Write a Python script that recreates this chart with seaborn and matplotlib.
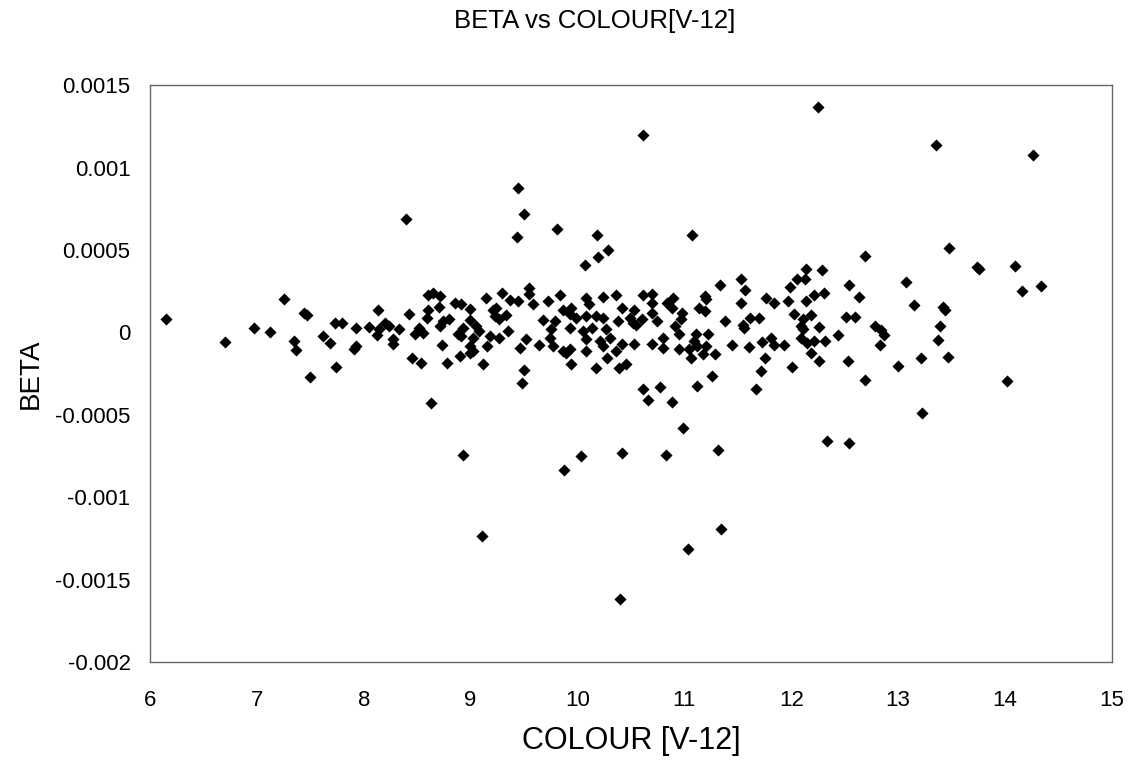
import matplotlib
matplotlib.use("Agg")
import matplotlib.pyplot as plt
import numpy as np
import pandas as pd
import seaborn as sns

# values (colour index, beta)
colour = [
    6.15, 6.70, 6.97, 7.12, 7.25, 7.35, 7.37, 7.44, 7.47, 7.50, 7.62, 7.68,
    7.74, 7.73, 7.80, 7.91, 7.93, 7.93, 8.05, 8.13, 8.14, 8.12, 8.20,
    8.60, 8.65, 8.71, 9.29, 9.55, 9.55, 9.84, 10.36, 9.14, 9.37, 9.44, 9.58,
    9.72, 10.08, 10.24, 8.85, 8.91, 8.99, 8.70, 8.60, 9.21, 9.24, 10.11, 9.94,
    9.86, 10.42, 8.42, 8.59, 9.23, 9.27, 9.33, 9.93, 9.99, 10.17, 10.24, 10.08,
    10.38, 9.68, 9.79, 8.99, 8.74, 8.80, 8.24, 8.33, 8.52, 8.71, 8.93, 9.05,
    9.08, 9.35, 9.75, 9.93, 10.05, 10.14, 10.27, 8.48, 8.55, 8.88, 8.27, 8.91,
    9.02, 9.18, 9.27, 9.52, 9.74, 10.08, 10.21, 10.30, 10.42, 8.27, 8.73, 8.99,
    9.15, 9.46, 9.64, 9.77, 9.86, 9.93, 10.08, 10.24, 10.36, 9.02, 8.45, 8.54,
    8.78, 8.90, 8.99, 9.12, 9.89, 9.94, 10.17, 10.39, 10.45, 10.28, 9.50, 9.48,
    8.40, 9.44, 9.50, 9.43, 9.81, 10.18, 10.29, 10.19, 10.07,
    10.61, 12.25, 13.35, 14.26, 11.07, 12.69, 13.48, 13.74, 13.76, 14.09, 14.34,
    14.16, 13.07, 12.29, 12.14, 12.05, 12.13, 11.99, 11.53, 11.57, 11.33, 12.54,
    10.61, 10.70, 10.89, 11.19, 11.20, 11.53, 11.76, 11.84, 11.97, 12.14, 12.21,
    12.31, 12.63, 10.70, 10.84, 10.88, 11.14, 11.19, 10.98, 10.53, 10.70, 12.03,
    12.18, 12.11, 12.51, 12.60, 11.38, 11.61, 11.70, 11.55, 11.56, 10.49, 10.52,
    10.60, 10.74, 10.55, 10.97, 10.91, 10.95, 10.80, 11.11, 11.22, 11.09, 11.12,
    11.20, 11.17, 11.29, 11.04, 10.95, 11.06, 10.53, 10.70, 10.80, 11.45, 11.60,
    11.73, 11.81, 11.84, 11.93, 12.09, 12.11, 12.26, 12.09, 12.15, 12.21, 12.18,
    12.32, 12.44, 12.26, 11.75, 12.01, 12.53, 12.69, 11.72, 11.26, 11.12, 11.67,
    10.61, 10.77,
    13.15, 13.42, 13.44, 12.78, 12.84, 12.87, 12.83, 13.39, 13.37, 13.21, 13.47,
    13.00, 14.02,
    8.63, 10.66, 10.88, 10.99, 13.22, 8.93, 9.87, 10.03, 10.42, 10.83, 11.31,
    12.33, 12.54, 9.11, 11.34, 11.03, 10.40,
]

beta = [
    0.000079, -0.000057, 0.000024, 0.000004, 0.000200, -0.000053, -0.000109,
    0.000115, 0.000105, -0.000273, -0.000022, -0.000061, -0.000212, 0.000059,
    0.000059, -0.000103, -0.000083, 0.000030, 0.000034, 0.000139, 0.000018,
    -0.000016, 0.000059,
    0.000230, 0.000240, 0.000220, 0.000240, 0.000270, 0.000234, 0.000226,
    0.000230, 0.000210, 0.000194, 0.000190, 0.000170, 0.000190, 0.000206,
    0.000214, 0.000180, 0.000170, 0.000145, 0.000154, 0.000139, 0.000139,
    0.000149, 0.000170, 0.000149, 0.000139, 0.000149, 0.000113, 0.000089,
    0.000099, 0.000079, 0.000105, 0.000109, 0.000089, 0.000099, 0.000089,
    0.000099, 0.000069, 0.000073, 0.000069, 0.000073, 0.000069, 0.000079,
    0.000038, 0.000022, 0.000028, 0.000038, 0.000028, 0.000038, 0.000008,
    0.000008, 0.000018, 0.000028, 0.000008, 0.000028, 0.000018, -0.000012,
    -0.000002, -0.000012, -0.000042, -0.000022, -0.000032, -0.000022, -0.000032,
    -0.000042, -0.000032, -0.000042, -0.000053, -0.000032, -0.000073, -0.000073,
    -0.000077, -0.000083, -0.000083, -0.000093, -0.000079, -0.000083, -0.000113,
    -0.000103, -0.000113, -0.000083, -0.000113, -0.000113, -0.000154, -0.000188,
    -0.000184, -0.000143, -0.000123, -0.000190, -0.000123, -0.000194, -0.000214,
    -0.000214, -0.000194, -0.000154, -0.000226, -0.000307,
    0.000691, 0.000877, 0.000721, 0.000580, 0.000626, 0.000592, 0.000503,
    0.000460, 0.000408,
    0.001198, 0.001368, 0.001140, 0.001079, 0.000594, 0.000463, 0.000515,
    0.000396, 0.000382, 0.000402, 0.000279, 0.000250, 0.000309, 0.000378,
    0.000384, 0.000327, 0.000323, 0.000275, 0.000325, 0.000259, 0.000287,
    0.000287,
    0.000230, 0.000234, 0.000210, 0.000220, 0.000200, 0.000180, 0.000210,
    0.000176, 0.000190, 0.000190, 0.000230, 0.000240, 0.000216, 0.000180,
    0.000180, 0.000149, 0.000149, 0.000133, 0.000119, 0.000139, 0.000119,
    0.000109, 0.000103, 0.000079, 0.000093, 0.000093, 0.000069, 0.000089,
    0.000089, 0.000048, 0.000028, 0.000089, 0.000059, 0.000079, 0.000069,
    0.000048, 0.000079, 0.000038, -0.000012, -0.000032, -0.000012, -0.000012,
    -0.000053, -0.000083, -0.000083, -0.000133, -0.000133, -0.000103, -0.000103,
    -0.000154, -0.000073, -0.000073, -0.000093, -0.000079, -0.000089, -0.000059,
    -0.000032, -0.000079, -0.000079, 0.000038, 0.000018, 0.000032, -0.000032,
    -0.000063, -0.000053, -0.000123, -0.000049, -0.000016, -0.000174, -0.000155,
    -0.000208, -0.000171, -0.000286, -0.000232, -0.000265, -0.000323, -0.000343,
    -0.000345, -0.000333,
    0.000164, 0.000156, 0.000139, 0.000042, 0.000012, -0.000018, -0.000079,
    0.000038, -0.000048, -0.000154, -0.000149, -0.000204, -0.000295,
    -0.000426, -0.000410, -0.000422, -0.000580, -0.000489, -0.000745, -0.000836,
    -0.000750, -0.000731, -0.000741, -0.000713, -0.000657, -0.000669, -0.001236,
    -0.001194, -0.001315, -0.001618,
]

x_ticks = [6, 7, 8, 9, 10, 11, 12, 13, 14, 15]
y_ticks = [-0.002, -0.0015, -0.001, -0.0005, 0, 0.0005, 0.001, 0.0015]

df = pd.DataFrame({"COLOUR": colour, "BETA": beta})

sns.set_style("white")
plt.rcParams["font.family"] = ["Liberation Sans", "DejaVu Sans"]
plt.rcParams["text.color"] = "black"
plt.rcParams["axes.labelcolor"] = "black"

fig = plt.figure(figsize=(11.3, 7.61), dpi=100)
ax = fig.add_axes([0.1327, 0.130, 0.8513, 0.758])

sns.scatterplot(data=df, x="COLOUR", y="BETA", marker="D", color="black",
                s=38, linewidth=0, ax=ax, legend=False)

ax.set_xlim(6, 15)
ax.set_ylim(-0.002, 0.0015)
ax.set_xticks(x_ticks)
ax.set_yticks(y_ticks)
ax.set_xticklabels([str(t) for t in x_ticks])
ax.set_yticklabels([f"{t:g}" for t in y_ticks])
ax.tick_params(axis="both", direction="in", length=7, width=1, color="#555555",
               labelsize=16, labelcolor="black")
ax.tick_params(axis="y", pad=14)
ax.tick_params(axis="x", pad=20)

for side in ["left", "bottom", "top", "right"]:
    ax.spines[side].set_visible(True)
    ax.spines[side].set_color("#666666")
    ax.spines[side].set_linewidth(1.0)

ax.set_xlabel("COLOUR [V-12]", fontsize=22, labelpad=11)
ax.set_ylabel("BETA", fontsize=20, labelpad=8)
fig.text(0.526, 0.988, "BETA vs COLOUR[V-12]", fontsize=18.5,
         ha="center", va="top")

fig.savefig("out.png", dpi=100)
